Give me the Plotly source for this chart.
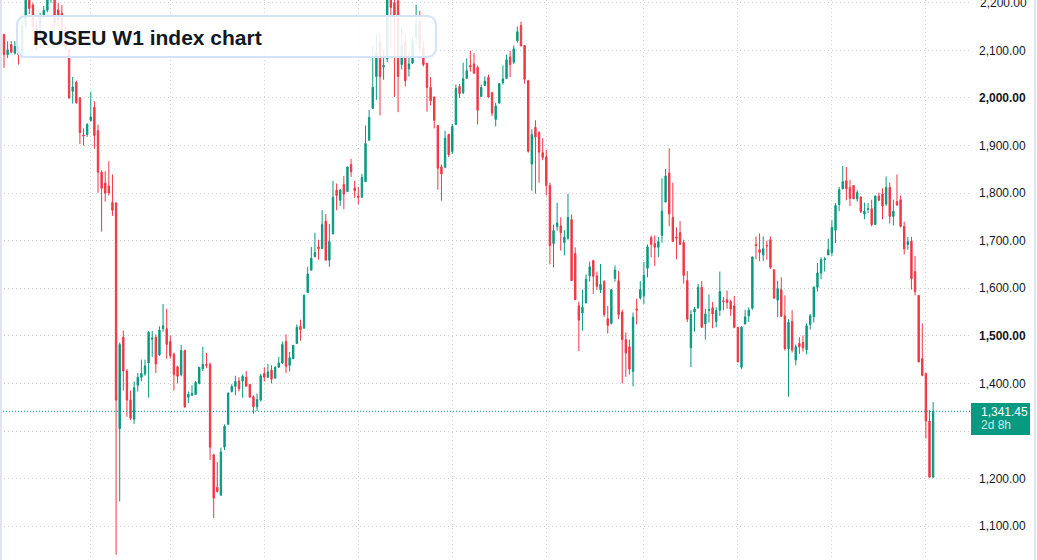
import plotly.graph_objects as go

# ---------------- data (weekly OHLC) ----------------
opens = [
    2133, 2091, 2112, 2094, 2096, 2091, 2153, 2215, 2195, 2150,
    2120, 2174, 2184, 2212, 2222, 2185, 2178, 2143, 2101, 2014,
    2033, 2000, 1922, 1923, 1953, 1980, 1931, 1844, 1821, 1815,
    1780, 1779, 1305, 1497, 1426, 1365, 1325, 1396, 1413, 1420,
    1443, 1493, 1497, 1460, 1515, 1515, 1488, 1461, 1435, 1419,
    1469, 1371, 1375, 1377, 1400, 1431, 1440, 1440, 1250, 1182,
    1165, 1266, 1314, 1383, 1394, 1405, 1405, 1413, 1398, 1372,
    1351, 1365, 1421, 1413, 1428, 1411, 1434, 1443, 1488, 1438,
    1452, 1484, 1520, 1516, 1591, 1638, 1666, 1687, 1683, 1741,
    1659, 1714, 1806, 1785, 1818, 1803, 1860, 1811, 1794, 1791,
    1824, 1911, 1978, 2045, 2118, 2065, 2082, 2215, 2200, 2204,
    2070, 2118, 2061, 2073, 2128, 2160, 2105, 2073, 2022, 2002,
    1942, 1855, 1854, 1923, 1887, 1944, 2024, 2011, 2041, 2068,
    2071, 2064, 2003, 2026, 2043, 2011, 1955, 1989, 2032, 2041,
    2086, 2075, 2120, 2152, 2110, 2036, 1861, 1938, 1927, 1885,
    1876, 1816, 1694, 1730, 1731, 1696, 1705, 1744, 1673, 1563,
    1548, 1569, 1626, 1658, 1626, 1597, 1614, 1536, 1526, 1621,
    1616, 1550, 1492, 1477, 1425, 1557, 1580, 1584, 1642, 1706,
    1694, 1686, 1711, 1781, 1842, 1749, 1708, 1717, 1696, 1616,
    1475, 1550, 1559, 1602, 1525, 1554, 1559, 1530, 1554, 1574,
    1576, 1572, 1563, 1518, 1434, 1525, 1542, 1558, 1692, 1681,
    1670, 1690, 1702, 1639, 1575, 1597, 1542, 1473, 1530, 1449,
    1484, 1486, 1471, 1524, 1540, 1602, 1632, 1660, 1670, 1675,
    1722, 1776, 1809, 1826, 1812, 1816, 1788, 1792, 1756, 1766,
    1767, 1734, 1794, 1798, 1777, 1812, 1751, 1782, 1786, 1730,
    1692, 1699, 1635, 1585, 1452, 1421, 1321, 1203,
]
highs = [
    2135, 2119, 2119, 2119, 2108, 2160, 2225, 2222, 2200, 2165,
    2178, 2193, 2220, 2232, 2228, 2200, 2195, 2150, 2103, 2044,
    2036, 2001, 1936, 1947, 2013, 1993, 1944, 1848, 1846, 1867,
    1839, 1781, 1486, 1511, 1430, 1385, 1404, 1422, 1450, 1450,
    1510, 1510, 1503, 1520, 1567, 1557, 1501, 1465, 1437, 1481,
    1471, 1383, 1396, 1405, 1434, 1477, 1464, 1444, 1252, 1235,
    1265, 1314, 1380, 1398, 1416, 1413, 1419, 1426, 1398, 1375,
    1379, 1420, 1434, 1441, 1438, 1436, 1456, 1488, 1503, 1466,
    1480, 1524, 1534, 1587, 1645, 1687, 1717, 1702, 1764, 1756,
    1735, 1826, 1820, 1809, 1836, 1855, 1872, 1826, 1813, 1840,
    1942, 1975, 2109, 2134, 2137, 2101, 2225, 2228, 2212, 2210,
    2148, 2135, 2097, 2128, 2196, 2183, 2120, 2073, 2044, 2002,
    1942, 1860, 1931, 1925, 1945, 2028, 2029, 2074, 2083, 2099,
    2094, 2068, 2028, 2045, 2049, 2013, 1990, 2030, 2068, 2091,
    2099, 2110, 2150, 2160, 2110, 2038, 1934, 1953, 1930, 1915,
    1891, 1822, 1734, 1780, 1749, 1722, 1798, 1755, 1686, 1572,
    1597, 1629, 1656, 1660, 1635, 1651, 1617, 1563, 1599, 1648,
    1636, 1555, 1507, 1492, 1549, 1578, 1615, 1655, 1692, 1711,
    1711, 1708, 1831, 1851, 1894, 1822, 1728, 1741, 1702, 1636,
    1554, 1561, 1609, 1615, 1557, 1587, 1571, 1560, 1635, 1582,
    1595, 1576, 1584, 1518, 1520, 1555, 1560, 1666, 1709, 1715,
    1709, 1700, 1709, 1639, 1616, 1623, 1585, 1535, 1554, 1482,
    1497, 1501, 1526, 1546, 1604, 1653, 1665, 1666, 1704, 1743,
    1779, 1813, 1857, 1855, 1828, 1816, 1806, 1792, 1780, 1779,
    1786, 1794, 1801, 1810, 1835, 1822, 1786, 1839, 1795, 1740,
    1708, 1708, 1668, 1585, 1526, 1421, 1344, 1361,
]
lows = [
    2063, 2084, 2094, 2091, 2070, 2085, 2145, 2176, 2140, 2100,
    2105, 2165, 2180, 2200, 2150, 2150, 2130, 2100, 1998, 1988,
    1988, 1903, 1900, 1918, 1950, 1893, 1801, 1719, 1782, 1795,
    1752, 1040, 1152, 1385, 1330, 1323, 1315, 1383, 1405, 1416,
    1370, 1456, 1422, 1458, 1509, 1452, 1452, 1385, 1400, 1415,
    1349, 1359, 1375, 1377, 1398, 1426, 1432, 1239, 1117, 1171,
    1165, 1260, 1314, 1381, 1375, 1383, 1370, 1394, 1371, 1336,
    1342, 1362, 1404, 1411, 1400, 1411, 1434, 1441, 1422, 1425,
    1452, 1484, 1490, 1516, 1591, 1638, 1666, 1660, 1683, 1659,
    1645, 1714, 1764, 1773, 1766, 1803, 1834, 1790, 1776, 1791,
    1824, 1911, 1978, 1996, 1963, 2038, 2075, 2105, 2002, 1970,
    2060, 2024, 2045, 2071, 2110, 2101, 2066, 1971, 1984, 1936,
    1807, 1784, 1854, 1876, 1882, 1944, 2000, 2008, 2041, 2055,
    2051, 1944, 2002, 2026, 2000, 1962, 1940, 1989, 2028, 2041,
    2044, 2071, 2116, 2109, 2030, 1885, 1805, 1799, 1822, 1869,
    1795, 1650, 1644, 1721, 1679, 1669, 1702, 1616, 1576, 1468,
    1511, 1569, 1614, 1588, 1596, 1590, 1540, 1505, 1524, 1614,
    1535, 1400, 1414, 1419, 1394, 1524, 1576, 1567, 1623, 1665,
    1647, 1665, 1696, 1781, 1730, 1698, 1661, 1692, 1610, 1529,
    1434, 1509, 1557, 1518, 1492, 1528, 1516, 1518, 1542, 1554,
    1557, 1542, 1516, 1445, 1430, 1524, 1529, 1555, 1661, 1657,
    1657, 1660, 1641, 1579, 1539, 1541, 1469, 1372, 1465, 1438,
    1462, 1467, 1461, 1513, 1528, 1593, 1619, 1635, 1670, 1668,
    1695, 1762, 1808, 1785, 1773, 1788, 1782, 1758, 1745, 1758,
    1730, 1734, 1783, 1745, 1773, 1736, 1732, 1773, 1728, 1671,
    1681, 1597, 1585, 1445, 1415, 1284, 1203, 1203,
]
closes = [
    2091, 2101, 2096, 2108, 2091, 2153, 2215, 2188, 2150, 2120,
    2170, 2184, 2212, 2222, 2158, 2165, 2143, 2107, 2000, 2023,
    1990, 1927, 1920, 1944, 1960, 1921, 1844, 1810, 1800, 1800,
    1764, 1365, 1482, 1426, 1365, 1327, 1391, 1413, 1421, 1437,
    1507, 1495, 1441, 1512, 1521, 1482, 1458, 1419, 1415, 1469,
    1351, 1377, 1379, 1402, 1434, 1440, 1438, 1266, 1159, 1173,
    1256, 1310, 1380, 1394, 1404, 1389, 1415, 1394, 1371, 1351,
    1366, 1416, 1413, 1424, 1409, 1434, 1443, 1482, 1436, 1454,
    1480, 1518, 1513, 1585, 1630, 1663, 1675, 1683, 1734, 1659,
    1698, 1791, 1795, 1806, 1798, 1855, 1845, 1805, 1791, 1833,
    1904, 1959, 2022, 2095, 2045, 2068, 2215, 2190, 2174, 2045,
    2109, 2036, 2071, 2120, 2155, 2105, 2070, 2022, 1994, 1953,
    1852, 1840, 1915, 1881, 1940, 2020, 2009, 2040, 2057, 2065,
    2052, 1974, 2022, 2035, 2002, 1968, 1983, 2030, 2040, 2080,
    2070, 2103, 2139, 2109, 2039, 1888, 1923, 1918, 1886, 1875,
    1816, 1690, 1721, 1737, 1717, 1707, 1749, 1616, 1576, 1533,
    1560, 1619, 1645, 1625, 1604, 1608, 1545, 1522, 1597, 1638,
    1545, 1492, 1464, 1430, 1539, 1554, 1597, 1627, 1687, 1692,
    1686, 1698, 1762, 1836, 1756, 1698, 1705, 1692, 1627, 1535,
    1545, 1556, 1602, 1518, 1546, 1555, 1546, 1553, 1593, 1572,
    1570, 1556, 1518, 1445, 1518, 1540, 1554, 1666, 1690, 1675,
    1683, 1689, 1644, 1579, 1599, 1541, 1473, 1528, 1470, 1477,
    1477, 1475, 1521, 1542, 1602, 1632, 1660, 1662, 1681, 1728,
    1774, 1807, 1824, 1809, 1789, 1788, 1801, 1761, 1762, 1767,
    1734, 1794, 1785, 1773, 1812, 1751, 1762, 1775, 1730, 1683,
    1698, 1620, 1593, 1445, 1417, 1321, 1203, 1341.45,
]
weeks = list(range(len(opens)))

grid_weeks = [24, 46, 72, 98, 124, 150, 177, 203, 229, 255]
price_ticks = [1100, 1200, 1300, 1400, 1500, 1600, 1700, 1800, 1900, 2000, 2100, 2200]
# 1,300.00 sits under the last-price badge in the reference; 2,200.00 is drawn
# separately below so that it can be cut by the top edge as in the reference
price_tick_labels = ["1,100.00", "1,200.00", "", "1,400.00", "<b>1,500.00</b>",
                     "1,600.00", "1,700.00", "1,800.00", "1,900.00", "<b>2,000.00</b>",
                     "2,100.00", ""]
top_tick_value = 2200
top_tick_label = "2,200.00"
last_price = 1341.45
last_price_text = "1,341.45"
countdown_text = "2d 8h"
title_text = "RUSEU W1 index chart"

# ---------------- styling ----------------
UP = "#089981"
DOWN = "#F23645"
GRID = "#cdd1d8"
TXT = "#131722"
FONT = "Arial, Liberation Sans, sans-serif"
W, H = 1037, 560
PLOT_W = 970


def pxx(px):
    return px / PLOT_W


def pxy(py):
    return 1 - py / H


fig = go.Figure(go.Candlestick(
    x=weeks, open=opens, high=highs, low=lows, close=closes,
    increasing=dict(line=dict(color=UP, width=1), fillcolor=UP),
    decreasing=dict(line=dict(color=DOWN, width=1), fillcolor=DOWN),
    whiskerwidth=0, hoverinfo="skip",
))

fig.update_layout(
    width=W, height=H,
    margin=dict(l=0, r=W - PLOT_W, t=0, b=0, autoexpand=False),
    paper_bgcolor="white", plot_bgcolor="white",
    showlegend=False, boxgap=0.45,
    font=dict(family=FONT, color=TXT),
)
fig.update_xaxes(
    range=[-1.107, 267.2], rangeslider_visible=False,
    tickvals=grid_weeks, showticklabels=False, ticks="",
    showgrid=True, gridcolor=GRID, gridwidth=1, griddash="1px,3px",
    zeroline=False, showline=False, automargin=False,
)
fig.update_yaxes(
    side="right", range=[1029, 2205.7],
    tickvals=price_ticks, ticktext=price_tick_labels, ticks="",
    ticklabelstandoff=8, automargin=False,
    tickfont=dict(size=12, color=TXT, family=FONT),
    showgrid=True, gridcolor=GRID, gridwidth=1, griddash="1px,3px",
    zeroline=False, showline=False,
)

shapes = []
# current price dotted line
shapes.append(dict(type="line", xref="paper", yref="y", x0=0, x1=1,
                   y0=last_price, y1=last_price, layer="above",
                   line=dict(color=UP, width=1, dash="1px,2px")))

# rounded title box
x0, x1, y0, y1, r = 17, 436, 16, 57, 10
pts = [
    ("M", [(x0 + r, y0)]), ("L", [(x1 - r, y0)]), ("Q", [(x1, y0), (x1, y0 + r)]),
    ("L", [(x1, y1 - r)]), ("Q", [(x1, y1), (x1 - r, y1)]), ("L", [(x0 + r, y1)]),
    ("Q", [(x0, y1), (x0, y1 - r)]), ("L", [(x0, y0 + r)]), ("Q", [(x0, y0), (x0 + r, y0)]),
]
path = " ".join(cmd + " " + " ".join(f"{pxx(a):.5f},{pxy(b):.5f}" for a, b in p) for cmd, p in pts) + " Z"
shapes.append(dict(type="path", xref="paper", yref="paper", path=path, layer="above",
                   fillcolor="rgba(255,255,255,0.88)",
                   line=dict(color="#d5e3fa", width=2)))

# price label box on the scale
shapes.append(dict(type="rect", xref="paper", yref="paper",
                   x0=pxx(971), x1=pxx(1030), y0=pxy(403), y1=pxy(435),
                   fillcolor=UP, line=dict(width=0), layer="above"))

# container borders
shapes.append(dict(type="line", xref="paper", yref="paper", x0=pxx(1), x1=pxx(1), y0=0, y1=1,
                   line=dict(color="#e0e3eb", width=2), layer="above"))
shapes.append(dict(type="line", xref="paper", yref="paper", x0=pxx(1035), x1=pxx(1035), y0=0, y1=1,
                   line=dict(color="#e0e3eb", width=2), layer="above"))
fig.update_layout(shapes=shapes)

annotations = [
    dict(xref="paper", yref="paper", x=pxx(31), y=pxy(37.5), xanchor="left", yanchor="middle",
         text=f"<b>{title_text}</b>", showarrow=False,
         font=dict(size=21, color=TXT, family=FONT)),
    dict(xref="paper", yref="y", x=pxx(978), y=top_tick_value, xanchor="left", yanchor="middle",
         text=top_tick_label, showarrow=False,
         font=dict(size=12, color=TXT, family=FONT)),
    dict(xref="paper", yref="paper", x=pxx(979), y=pxy(412), xanchor="left", yanchor="middle",
         text=last_price_text, showarrow=False,
         font=dict(size=12, color="white", family=FONT)),
    dict(xref="paper", yref="paper", x=pxx(979), y=pxy(425), xanchor="left", yanchor="middle",
         text=countdown_text, showarrow=False,
         font=dict(size=12, color="rgba(255,255,255,0.8)", family=FONT)),
]
fig.update_layout(annotations=annotations)

fig.write_html("out.html")
